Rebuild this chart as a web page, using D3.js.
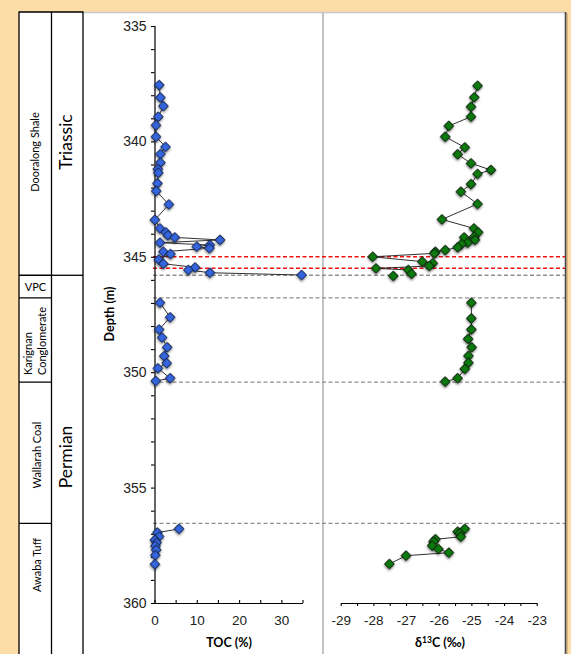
<!DOCTYPE html>
<html>
<head>
<meta charset="utf-8">
<script src="https://cdn.jsdelivr.net/npm/d3@7"></script>
<style>
  body { margin: 0; background: #fcdca7; }
  svg { display: block; font-family: Lato, "Open Sans", sans-serif; }
</style>
</head>
<body>
<svg id="chart"></svg>
<script>
// depth samples (m) and values
const tocDepth = [337.56, 338.1, 338.47, 338.93, 339.3, 339.8, 340.24, 340.55, 340.92, 341.2, 341.36, 341.82, 342.15, 342.73, 343.4, 343.77, 343.94, 344.07, 344.16, 344.27, 344.39, 344.49, 344.56, 344.63, 344.78, 344.88, 345.12, 345.3, 345.46, 345.57, 345.69, 345.79,
  346.99, 347.62, 348.15, 348.5, 348.92, 349.3, 349.61, 349.83, 350.26, 350.38,
  356.79, 356.95, 357.12, 357.27, 357.39, 357.53, 357.7, 357.93, 358.32]
const tocValue = [1.1, 1.4, 2.1, 0.9, 0.35, 0.35, 2.6, 1.4, 1.4, 0.8, 0.9, 0.7, 0.4, 3.4, 0.1, 1.3, 2.7, 3.2, 4.8, 15.5, 1.3, 13.1, 10.0, 13.0, 2.1, 3.8, 1.0, 2.1, 9.6, 8.0, 13.1, 34.8,
  1.3, 3.7, 1.1, 1.8, 3.0, 2.3, 2.9, 0.8, 3.7, 0.3,
  5.8, 0.7, 1.1, 0.1, 0.5, 0.2, 0.4, 0.2, 0.1]

const d13cDepth = [337.59, 338.09, 338.5, 338.93, 339.33, 339.8, 340.26, 340.56, 340.95, 341.24, 341.41, 341.85, 342.18, 342.71, 343.38, 343.77, 343.94, 344.13, 344.16, 344.27, 344.39, 344.45, 344.59, 344.71, 344.78, 344.85, 345.0, 345.21, 345.28, 345.4, 345.5, 345.57, 345.74, 345.83,
  346.99, 347.67, 348.15, 348.56, 348.92, 349.29, 349.59, 349.86, 350.26, 350.41,
  356.79, 356.91, 356.98, 357.13, 357.24, 357.34, 357.52, 357.66, 357.82, 357.95, 358.31]
const d13cValue = [-24.81, -24.91, -25.01, -25.01, -25.69, -25.8, -25.2, -25.42, -25.01, -24.4, -24.81, -25.01, -25.32, -24.81, -25.9, -24.92, -24.79, -24.91, -25.22, -24.89, -25.11, -25.3, -25.42, -25.8, -26.1, -26.13, -28.02, -26.5, -26.18, -26.29, -27.92, -26.93, -26.83, -27.39,
  -25.0, -25.0, -25.0, -25.1, -24.99, -25.09, -25.09, -25.2, -25.42, -25.8,
  -25.2, -25.42, -25.35, -25.32, -26.1, -26.16, -26.2, -26.01, -25.69, -27.0, -27.51]

// lithostratigraphy
const formations = ["Dooralong Shale", "VPC", "Karignan|Conglomerate", "Wallarah Coal", "Awaba Tuff"]
const formationBase = [345.8, 346.78, 350.43, 356.55]   // boundaries between formations
const periods = ["Triassic", "Permian"]
const periodBase = [345.8]
const redLines = [345.0, 345.5]

const depthTicks = [335, 340, 345, 350, 355, 360]
const tocTicks = [0, 10, 20, 30]
const d13cTicks = [-29, -28, -27, -26, -25, -24, -23]

const width = 571, height = 654
const svg = d3.select('#chart').attr('width', width).attr('height', height)

const defs = svg.append('defs')
const f = defs.append('filter').attr('id', 'shadow').attr('x', '-50%').attr('y', '-50%').attr('width', '200%').attr('height', '200%')
f.append('feDropShadow').attr('dx', 1).attr('dy', 1.2).attr('stdDeviation', 0.9).attr('flood-color', '#000').attr('flood-opacity', 0.45)

// white panel
svg.append('rect').attr('x', 19).attr('y', 12).attr('width', 546).attr('height', height).attr('fill', '#fff')
svg.append('line').attr('x1', 83).attr('x2', 565).attr('y1', 12.5).attr('y2', 12.5).attr('stroke', '#c8c8c8').attr('stroke-width', 1.5)
svg.append('line').attr('x1', 567).attr('x2', 567).attr('y1', 13).attr('y2', height).attr('stroke', '#d9b98a').attr('stroke-width', 2)
svg.append('line').attr('x1', 565.5).attr('x2', 565.5).attr('y1', 12).attr('y2', height).attr('stroke', '#4a4a4a').attr('stroke-width', 1.6)

const y = d3.scaleLinear().domain([335, 360]).range([26, 603])
const xToc = d3.scaleLinear().domain([0, 35]).range([154.5, 302.5])
const xC = d3.scaleLinear().domain([-29, -23]).range([340.7, 536.7])

// strat column
const colX = [19, 51.5, 83]
const strat = svg.append('g').attr('stroke', '#000').attr('stroke-width', 1.3)
colX.forEach(x => strat.append('line').attr('x1', x).attr('x2', x).attr('y1', 11.5).attr('y2', height))
strat.append('line').attr('x1', 19).attr('x2', 83).attr('y1', 12).attr('y2', 12)
formationBase.forEach(d => strat.append('line').attr('x1', 19).attr('x2', 51.5).attr('y1', y(d)).attr('y2', y(d)))
periodBase.forEach(d => strat.append('line').attr('x1', 51.5).attr('x2', 83).attr('y1', y(d)).attr('y2', y(d)))

const fmPos = [[35.5, 152], [35.5, 287], [0, 375], [37, 455], [37, 565]]
formations.forEach((name, i) => {
  const [cx, cy] = fmPos[i]
  if (name === 'VPC') {
    svg.append('text').attr('x', cx).attr('y', cy).attr('dy', '0.35em').attr('text-anchor', 'middle')
      .style('font-size', '11px').text(name)
  } else if (name.includes('|')) {
    name.split('|').forEach((p, j) => {
      svg.append('text').attr('transform', `translate(${28 + j * 14},${cy}) rotate(-90)`)
        .attr('dy', '0.35em').attr('text-anchor', 'start').style('font-size', '11px').text(p)
    })
  } else {
    svg.append('text').attr('transform', `translate(${cx},${cy}) rotate(-90)`).attr('dy', '0.35em')
      .attr('text-anchor', 'middle').style('font-size', '11px').text(name)
  }
})
const perPos = [142, 457]
periods.forEach((p, i) => {
  svg.append('text').attr('transform', `translate(66,${perPos[i]}) rotate(-90)`).attr('dy', '0.35em')
    .attr('text-anchor', 'middle').style('font-size', '17.5px').text(p)
})

// panel separator
svg.append('line').attr('x1', 323).attr('x2', 323).attr('y1', 13).attr('y2', height).attr('stroke', '#9a9a9a').attr('stroke-width', 1.2)

// dashed marker lines
formationBase.forEach(d => {
  svg.append('line').attr('x1', 153).attr('x2', 565).attr('y1', y(d)).attr('y2', y(d))
    .attr('stroke', '#8f8f8f').attr('stroke-width', 1.3).attr('stroke-dasharray', '4,2.5')
})
redLines.forEach(d => {
  svg.append('line').attr('x1', 153).attr('x2', 565).attr('y1', y(d)).attr('y2', y(d))
    .attr('stroke', '#f01010').attr('stroke-width', 1.5).attr('stroke-dasharray', '4,2.5')
})

// axes
const yAxis = svg.append('g').attr('transform', 'translate(154.5,0)')
  .call(d3.axisLeft(y).tickValues(d3.range(335, 361, 1)).tickSize(3.5).tickFormat(d => depthTicks.includes(d) ? d : ''))
yAxis.selectAll('.tick text').attr('x', -8).style('font-size', '14px').attr('fill', '#222')

const tocAxis = svg.append('g').attr('transform', 'translate(0,603)')
  .call(d3.axisBottom(xToc).tickValues(d3.range(0, 36, 5)).tickSize(3).tickSizeOuter(0).tickFormat(d => tocTicks.includes(d) ? d : ''))
tocAxis.selectAll('.tick line').attr('y1', -3).attr('y2', 0)
tocAxis.selectAll('.tick text').attr('y', 12).style('font-size', '13.5px').attr('fill', '#222')

const cAxis = svg.append('g').attr('transform', 'translate(0,603)')
  .call(d3.axisBottom(xC).tickValues(d3.range(-29, -22.9, 0.5)).tickSize(3).tickSizeOuter(0).tickFormat(d => d13cTicks.includes(d) ? d : ''))
cAxis.selectAll('.tick text').attr('y', 12).style('font-size', '13.5px').attr('fill', '#222')
svg.selectAll('.domain').attr('stroke-width', 1.2)
svg.selectAll('.tick line').attr('stroke-width', 1.1)

// axis titles
svg.append('text').attr('transform', 'translate(110,314) rotate(-90)').attr('dy', '0.35em').attr('text-anchor', 'middle')
  .style('font-size', '12.5px').style('font-weight', 'bold').text('Depth (m)')
svg.append('text').attr('x', 229).attr('y', 647).attr('text-anchor', 'middle')
  .style('font-size', '12.5px').style('font-weight', 'bold').text('TOC (%)')
const ct = svg.append('text').attr('x', 440).attr('y', 647).attr('text-anchor', 'middle')
  .style('font-size', '12.5px').style('font-weight', 'bold')
ct.append('tspan').text('δ')
ct.append('tspan').attr('dy', -4).style('font-size', '8.5px').text('13')
ct.append('tspan').attr('dy', 4).text('C (‰)')

// group samples between formation boundaries so lines break at each contact
const unitOf = d => d3.bisectLeft(formationBase, d)
function drawSeries(depths, values, x, fill, stroke) {
  const pts = depths.map((d, i) => ({ depth: d, v: values[i] }))
  const groups = d3.groups(pts, p => unitOf(p.depth))
  const line = d3.line().x(p => x(p.v)).y(p => y(p.depth))
  const g = svg.append('g')
  groups.forEach(([, arr]) => {
    g.append('path').attr('d', line(arr)).attr('fill', 'none').attr('stroke', '#1a1a1a').attr('stroke-width', 0.9)
  })
  g.selectAll('path.pt').data(pts).enter().append('path')
    .attr('class', 'pt')
    .attr('d', d3.symbol().type(d3.symbolSquare).size(46))
    .attr('transform', p => `translate(${x(p.v)},${y(p.depth)}) rotate(45)`)
    .attr('fill', fill).attr('stroke', stroke).attr('stroke-width', 1)
    .attr('filter', 'url(#shadow)')
}
drawSeries(tocDepth, tocValue, xToc, '#3466df', '#18264f')
drawSeries(d13cDepth, d13cValue, xC, '#0b7a0b', '#0a1f0a')
</script>
</body>
</html>
